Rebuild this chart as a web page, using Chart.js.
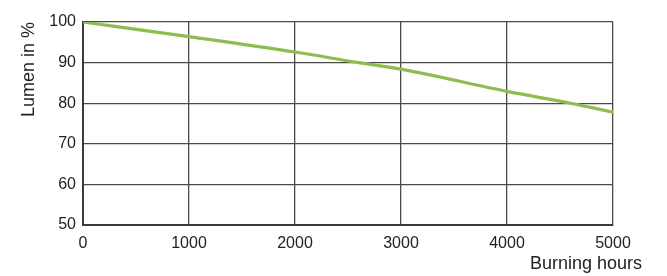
<!DOCTYPE html>
<html>
<head>
<meta charset="utf-8">
<script src="https://cdn.jsdelivr.net/npm/chart.js@4"></script>
<style>
html,body{margin:0;padding:0;background:#fff;}
canvas{display:block;}
</style>
</head>
<body>
<canvas id="c" width="667" height="276"></canvas>
<script>
const hours = [0, 1000, 2000, 2600, 3000, 4000, 4600, 5000];
const lumen = [100, 96.4, 92.6, 90, 88.4, 82.9, 80, 77.8];
const xTicks = [0, 1000, 2000, 3000, 4000, 5000];
const yTicks = [50, 60, 70, 80, 90, 100];
const xTitle = 'Burning hours';
const yTitle = 'Lumen in %';

const FONT = 'Liberation Sans, Arial, sans-serif';
const TEXT = '#222';

const xTitlePlugin = {
  id: 'xTitle',
  afterDraw(chart) {
    const ctx = chart.ctx, a = chart.chartArea;
    ctx.save();
    ctx.font = '18px ' + FONT;
    ctx.fillStyle = TEXT;
    ctx.textAlign = 'right';
    ctx.textBaseline = 'alphabetic';
    ctx.fillText(xTitle, a.right + 29, a.bottom + 44);
    ctx.restore();
  }
};

new Chart(document.getElementById('c'), {
  type: 'line',
  data: {
    datasets: [{
      data: hours.map((h, i) => ({x: h, y: lumen[i]})),
      borderColor: '#8cbd4f',
      borderWidth: 3.2,
      pointRadius: 0,
      fill: false,
      cubicInterpolationMode: 'monotone'
    }]
  },
  options: {
    responsive: false,
    animation: false,
    layout: {padding: {top: 22, right: 54, bottom: 0, left: 0}},
    plugins: {legend: {display: false}, tooltip: {enabled: false}},
    scales: {
      x: {
        type: 'linear',
        min: 0, max: 5000,
        afterBuildTicks(s) { s.ticks = xTicks.map(v => ({value: v})); },
        afterFit(s) { s.height = 51; },
        grid: {color: '#4a4a4a', lineWidth: 1.3, drawTicks: false},
        border: {color: '#3a3a3a', width: 2},
        ticks: {color: TEXT, font: {family: FONT, size: 16}, padding: 9, maxRotation: 0,
                callback: v => String(v)}
      },
      y: {
        min: 50, max: 100,
        afterBuildTicks(s) { s.ticks = yTicks.map(v => ({value: v})); },
        afterFit(s) { s.width = 83; },
        grid: {color: '#4a4a4a', lineWidth: 1.3, drawTicks: false},
        border: {color: '#3a3a3a', width: 2},
        ticks: {color: TEXT, font: {family: FONT, size: 16}, padding: 7,
                callback: v => String(v)},
        title: {display: true, text: yTitle, align: 'end', color: TEXT,
                font: {family: FONT, size: 18}, padding: {top: 18, bottom: 0}}
      }
    }
  },
  plugins: [xTitlePlugin]
});
</script>
</body>
</html>
